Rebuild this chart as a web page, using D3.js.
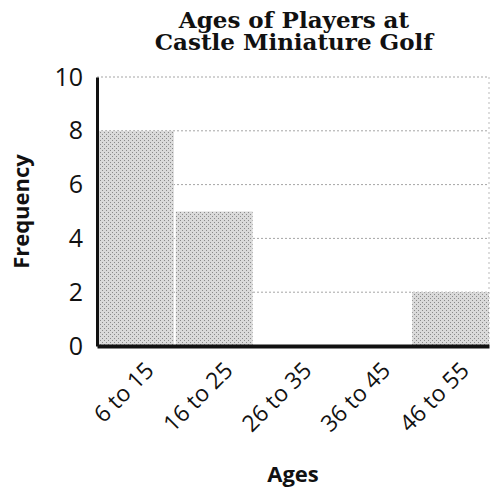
<!DOCTYPE html>
<html>
<head>
<meta charset="utf-8">
<script src="https://cdn.jsdelivr.net/npm/d3@7"></script>
<style>
  body { margin: 0; background: #fff; }
</style>
</head>
<body>
<div id="chart"></div>
<script>
// data
const ageGroups = ["6 to 15", "16 to 25", "26 to 35", "36 to 45", "46 to 55"];
const frequency = [8, 5, 0, 0, 2];
const yTicks = [0, 2, 4, 6, 8, 10];
const titleLines = ["Ages of Players at", "Castle Miniature Golf"];

const width = 491;
const height = 489;
const margin = {left: 97, right: 2, top: 77, bottom: 143};

const svg = d3.select("#chart")
  .append("svg")
  .attr("width", width)
  .attr("height", height);

// dotted stipple for the bars
const defs = svg.append("defs");
const pat = defs.append("pattern")
  .attr("id", "stipple")
  .attr("width", 4)
  .attr("height", 4)
  .attr("patternUnits", "userSpaceOnUse");
pat.append("rect").attr("width", 4).attr("height", 4).attr("fill", "#dadada");
pat.append("rect").attr("x", 0).attr("y", 0).attr("width", 1).attr("height", 1).attr("fill", "#8a8a8a");
pat.append("rect").attr("x", 2).attr("y", 2).attr("width", 1).attr("height", 1).attr("fill", "#8a8a8a");

let xScale = d3.scaleBand()
  .domain(ageGroups)
  .range([margin.left, width - margin.right])
  .paddingInner(0.025)
  .paddingOuter(0);

let yScale = d3.scaleLinear()
  .domain([0, 10])
  .range([height - margin.bottom, margin.top]);

// gridlines
svg.append("g")
  .selectAll("line")
  .data(yTicks.filter(d => d > 0))
  .enter()
  .append("line")
    .attr("x1", margin.left)
    .attr("x2", width - margin.right)
    .attr("y1", d => yScale(d))
    .attr("y2", d => yScale(d))
    .attr("stroke", "#a5a5a5")
    .attr("stroke-width", 1)
    .attr("stroke-dasharray", "2,2");

// faint right edge
svg.append("line")
  .attr("x1", width - margin.right)
  .attr("x2", width - margin.right)
  .attr("y1", yScale(10))
  .attr("y2", yScale(0))
  .attr("stroke", "#bbb")
  .attr("stroke-dasharray", "2,3");

// bars
svg.selectAll(".bar")
  .data(frequency)
  .enter()
  .append("rect")
    .attr("class", "bar")
    .attr("x", (d, i) => xScale(ageGroups[i]))
    .attr("y", d => yScale(d))
    .attr("width", xScale.bandwidth())
    .attr("height", d => yScale(0) - yScale(d))
    .attr("fill", "url(#stipple)");

// y axis
const yAxis = svg.append("g")
  .attr("transform", `translate(${margin.left}, 0)`)
  .call(d3.axisLeft(yScale).tickValues(yTicks).tickSize(0).tickPadding(14));
yAxis.select(".domain").attr("stroke", "#111").attr("stroke-width", 3);
yAxis.selectAll("text")
  .attr("font-family", "'Open Sans', sans-serif")
  .attr("font-size", "25px")
  .attr("fill", "#111");

// x axis
const xAxis = svg.append("g")
  .attr("transform", `translate(0, ${height - margin.bottom})`)
  .call(d3.axisBottom(xScale).tickSize(0).tickPadding(0));
xAxis.select(".domain").attr("stroke", "#111").attr("stroke-width", 4);
xAxis.selectAll("text")
  .attr("font-family", "'Open Sans', sans-serif")
  .attr("font-size", "23px")
  .attr("fill", "#111")
  .attr("text-anchor", "end")
  .attr("dy", 0)
  .attr("transform", "translate(20, 26) rotate(-45)");

// axis titles
svg.append("text")
  .attr("transform", `translate(29, ${yScale(5)}) rotate(-90)`)
  .attr("text-anchor", "middle")
  .attr("font-family", "'Open Sans', sans-serif")
  .attr("font-weight", "bold")
  .attr("font-size", "22px")
  .attr("fill", "#111")
  .text("Frequency");

svg.append("text")
  .attr("x", (margin.left + width - margin.right) / 2)
  .attr("y", 482)
  .attr("text-anchor", "middle")
  .attr("font-family", "'Open Sans', sans-serif")
  .attr("font-weight", "bold")
  .attr("font-size", "22px")
  .attr("fill", "#111")
  .text("Ages");

// chart title
svg.append("g")
  .selectAll("text")
  .data(titleLines)
  .enter()
  .append("text")
    .attr("x", 294)
    .attr("y", (d, i) => 28 + i * 22)
    .attr("text-anchor", "middle")
    .attr("font-family", "'DejaVu Serif', serif")
    .attr("font-weight", "bold")
    .attr("font-size", "23px")
    .attr("fill", "#111")
    .text(d => d);
</script>
</body>
</html>
